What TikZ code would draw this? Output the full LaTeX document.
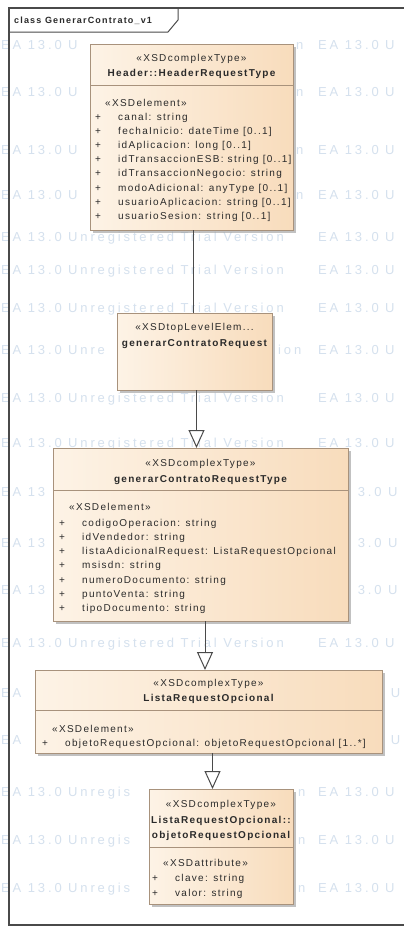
\documentclass[tikz,border=0pt]{standalone}
\usepackage{fontspec}
\setmainfont{Liberation Sans}[LetterSpace=13]
\newfontfamily\wmfont{Liberation Sans}[LetterSpace=22]
\usetikzlibrary{arrows.meta,shadows,calc}
\definecolor{boxline}{HTML}{A8927C}
\definecolor{boxL}{HTML}{FDF3E6}
\definecolor{boxR}{HTML}{F8DCBC}
\definecolor{wmc}{HTML}{D5E1EE}
\definecolor{framec}{HTML}{4A4A4A}
\definecolor{txt}{HTML}{2A2A2A}
\begin{document}
\begin{tikzpicture}[x=1pt,y=-1pt,
  classbox/.style={draw=boxline, line width=0.8pt, left color=boxL, right color=boxR,
    drop shadow={shadow xshift=3pt, shadow yshift=-3pt, fill=black!40, opacity=0.6},
    anchor=north west, inner sep=0pt, outer sep=0pt},
  divline/.style={draw=boxline, line width=0.8pt},
  ster/.style={font=\fontsize{10}{12}\selectfont, text=txt, inner sep=0pt, anchor=base},
  cname/.style={font=\fontsize{10}{12}\selectfont\bfseries, text=txt, inner sep=0pt, anchor=base},
  attr/.style={font=\fontsize{10}{12}\selectfont, text=txt, inner sep=0pt, anchor=base west},
  plus/.style={font=\fontsize{10}{12}\selectfont, text=txt, inner sep=0pt, anchor=base},
  wm/.style={font=\wmfont\fontsize{13}{15}\selectfont, text=wmc, inner sep=0pt, anchor=base west},
  assoc/.style={draw=framec, line width=1pt},
  genl/.style={draw=framec, line width=1pt, -{Triangle[open, length=18pt, width=16pt, line width=1pt]}}
]
\useasboundingbox (0,0) rectangle (404,929);
\fill[white] (0,0) rectangle (404,929);
% watermark fragments (only the parts not hidden by the class boxes)
\foreach \c [count=\i] in {45,92,150,195}{
  \node[wm] (wa\i) at (1,\c+4.5) {EA 13.0 U};
  \node[wm] (wn\i) at (296,\c+4.5) {n};
  \node[wm] (wb\i) at (318,\c+4.5) {EA 13.0 U};
}
\foreach \c [count=\i] in {237,270,308,398,443,643}{
  \node[wm] (wc\i) at (1,\c+4.5) {EA 13.0 Unregistered Trial Version};
  \node[wm] (wd\i) at (318,\c+4.5) {EA 13.0 U};
}
\foreach \c [count=\i] in {350}{
  \node[wm] (we\i) at (1,\c+4.5) {EA 13.0 Unre};
  \node[wm] (wf\i) at (278,\c+4.5) {ion};
  \node[wm] (wg\i) at (318,\c+4.5) {EA 13.0 U};
}
\foreach \c [count=\i] in {492,543,590}{
  \node[wm] (wh\i) at (1,\c+4.5) {EA 13};
  \node[wm] (wi\i) at (357.6,\c+4.5) {3.0 U};
}
\foreach \c [count=\i] in {693,740}{
  \node[wm] (wj\i) at (1,\c+4.5) {EA};
  \node[wm] (wk\i) at (390.7,\c+4.5) {U};
}
\foreach \c [count=\i] in {792,840,888}{
  \node[wm] (wl\i) at (1,\c+4.5) {EA 13.0 Unregis};
  \node[wm] (wo\i) at (298,\c+4.5) {n};
  \node[wm] (wp\i) at (318,\c+4.5) {EA 13.0 U};
}
% frame
\draw[framec, line width=1.6pt] (404,8) -- (9,8) -- (9,925) -- (404,925);
\draw[framec, line width=1pt] (9,32) -- (168,32) -- (178,20) -- (178,8);
\node[font=\fontsize{9}{10}\selectfont\bfseries, text=txt, inner sep=0pt, anchor=base west] (title) at (14,23.5) {class GenerarContrato\_v1};

% boxes
\node[classbox, minimum width=203pt, minimum height=186pt] (hdr) at (90,44) {};
\node[classbox, minimum width=155pt, minimum height=77pt] (gcr) at (117,313) {};
\node[classbox, minimum width=295pt, minimum height=173pt] (gcrt) at (53,448) {};
\node[classbox, minimum width=347pt, minimum height=83pt] (lro) at (35,670) {};
\node[classbox, minimum width=144pt, minimum height=115pt] (orq) at (149,789) {};

% dividers
\draw[divline] ($(hdr.north west)+(0,41)$) -- ($(hdr.north east)+(0,41)$);
\draw[divline] ($(gcrt.north west)+(0,42)$) -- ($(gcrt.north east)+(0,42)$);
\draw[divline] ($(lro.north west)+(0,40)$) -- ($(lro.north east)+(0,40)$);
\draw[divline] ($(orq.north west)+(0,58)$) -- ($(orq.north east)+(0,58)$);

% header box texts
\node[ster] (hs) at (191.5,61.5) {«XSDcomplexType»};
\node[cname] (hn) at (191.5,76.5) {Header::HeaderRequestType};
\node[attr] (he) at (105,106.5) {«XSDelement»};
\foreach \t/\y [count=\i] in {canal: string/117, fechaInicio: dateTime [0..1]/131, idAplicacion: long [0..1]/145, idTransaccionESB: string [0..1]/159, idTransaccionNegocio: string/173, modoAdicional: anyType [0..1]/188, usuarioAplicacion: string [0..1]/202, usuarioSesion: string [0..1]/216}{
  \node[plus] (hp\i) at (98,\y+3.5) {+};
  \node[attr] (ha\i) at (118,\y+3.5) {\t};
}

% generarContratoRequest
\node[ster] (gs) at (194.5,330.5) {«XSDtopLevelElem...};
\node[cname] (gn) at (194.5,346.5) {generarContratoRequest};

% generarContratoRequestType
\node[ster] (ts) at (200.5,466.5) {«XSDcomplexType»};
\node[cname] (tn) at (200.5,482.5) {generarContratoRequestType};
\node[attr] (te) at (69,510.5) {«XSDelement»};
\foreach \t/\y [count=\i] in {codigoOperacion: string/523, idVendedor: string/537, listaAdicionalRequest: ListaRequestOpcional/551, msisdn: string/565, numeroDocumento: string/580, puntoVenta: string/594, tipoDocumento: string/608}{
  \node[plus] (tp\i) at (62,\y+3.5) {+};
  \node[attr] (ta\i) at (82,\y+3.5) {\t};
}

% ListaRequestOpcional
\node[ster] (ls) at (208.5,686.5) {«XSDcomplexType»};
\node[cname] (ln) at (208.5,701.5) {ListaRequestOpcional};
\node[attr] (le) at (52,732.5) {«XSDelement»};
\node[plus] (lp1) at (45,746.5) {+};
\node[attr] (la1) at (65,746.5) {objetoRequestOpcional: objetoRequestOpcional [1..*]};

% ListaRequestOpcional::objetoRequestOpcional
\node[ster] (os) at (221,807.5) {«XSDcomplexType»};
\node[cname] (on1) at (221,823.5) {ListaRequestOpcional::};
\node[cname] (on2) at (221,838.5) {objetoRequestOpcional};
\node[attr] (oe) at (163,866.5) {«XSDattribute»};
\node[plus] (op1) at (155,881.5) {+};
\node[attr] (oa1) at (175,881.5) {clave: string};
\node[plus] (op2) at (155,896.5) {+};
\node[attr] (oa2) at (175,896.5) {valor: string};

% connectors
\coordinate (x1) at (193,0);
\coordinate (x2) at (196.5,0);
\coordinate (x3) at (205,0);
\coordinate (x4) at (212.5,0);
\draw[assoc] (hdr.south -| x1) -- (gcr.north -| x1);
\draw[genl] (gcr.south -| x2) -- (gcrt.north -| x2);
\draw[genl] (gcrt.south -| x3) -- (lro.north -| x3);
\draw[genl] (lro.south -| x4) -- (orq.north -| x4);
\end{tikzpicture}
\end{document}
